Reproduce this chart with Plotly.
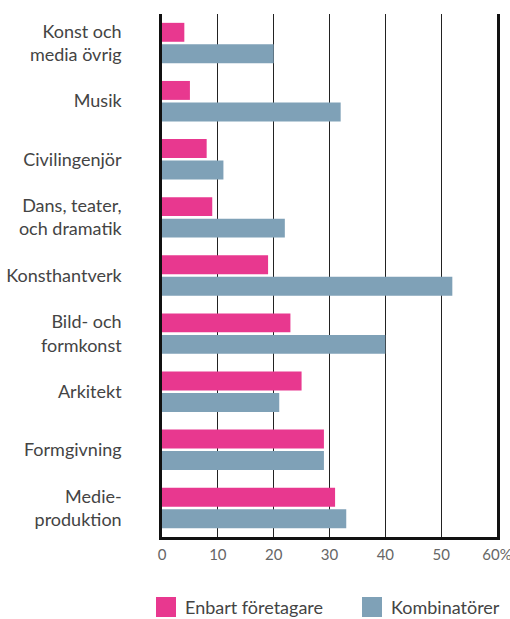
import plotly.graph_objects as go

# Categories (top to bottom) and values in percent
categories = [
    "Konst och<br>media övrig", "Musik", "Civilingenjör", "Dans, teater,<br>och dramatik",
    "Konsthantverk", "Bild- och<br>formkonst", "Arkitekt", "Formgivning", "Medie-<br>produktion"
]
enbart = [4, 5, 8, 9, 19, 23, 25, 29, 31]
kombinatorer = [20, 32, 11, 22, 52, 40, 21, 29, 33]
series_names = ["Enbart företagare", "Kombinatörer"]
series_colors = ["#E8388F", "#7FA1B7"]

tick_vals = [0, 10, 20, 30, 40, 50, 60]
tick_text = ["0", "10", "20", "30", "40", "50", "60%"]

fig = go.Figure()
for vals, name, col in zip([enbart, kombinatorer], series_names, series_colors):
    fig.add_trace(go.Bar(y=categories, x=vals, orientation="h", name=name,
                         marker=dict(color=col, line_width=0), showlegend=False))

# custom legend with large squares (plot area: x 162..497, y 14..537)
legend_x = [156, 362]
for lx, name, col in zip(legend_x, series_names, series_colors):
    fig.add_shape(type="rect", xref="paper", yref="paper",
                  x0=(lx - 162) / 335, x1=(lx + 20 - 162) / 335,
                  y0=-(597 - 537) / 523, y1=-(617 - 537) / 523,
                  fillcolor=col, line_width=0)
    fig.add_annotation(text=name, xref="paper", yref="paper",
                       x=(lx + 27 - 162) / 335, y=-(607 - 537) / 523,
                       xanchor="left", yanchor="middle", showarrow=False,
                       font=dict(size=18, color="#444"))

fig.update_layout(
    width=510, height=619,
    margin=dict(l=162, r=13, t=14, b=82),
    barmode="group", bargap=0.26, bargroupgap=0.12,
    plot_bgcolor="white", paper_bgcolor="white",
    font=dict(family="Lato, Open Sans, sans-serif", color="#444", size=18),
    showlegend=False,
)
fig.update_xaxes(
    range=[0, 60], tickvals=tick_vals, ticktext=tick_text,
    showgrid=True, gridcolor="#222", gridwidth=1,
    showline=True, linecolor="#111", linewidth=2.5,
    zeroline=False, tickfont=dict(size=15, color="#666"), ticks="",
    ticklabelstandoff=2, ticklabeloverflow="allow", automargin=False,
)
fig.update_yaxes(
    autorange="reversed", showline=True, mirror=True, linecolor="#111", linewidth=2.5,
    ticks="outside", ticklen=0, ticklabelstandoff=34, showgrid=False,
    tickfont=dict(size=18, color="#444"), automargin=False,
)

# drop the default body margin so the figure fills the window exactly
fig.write_html("out.html", config={"displayModeBar": False},
               post_script="document.body.style.margin='0';document.body.style.overflow='hidden';")
